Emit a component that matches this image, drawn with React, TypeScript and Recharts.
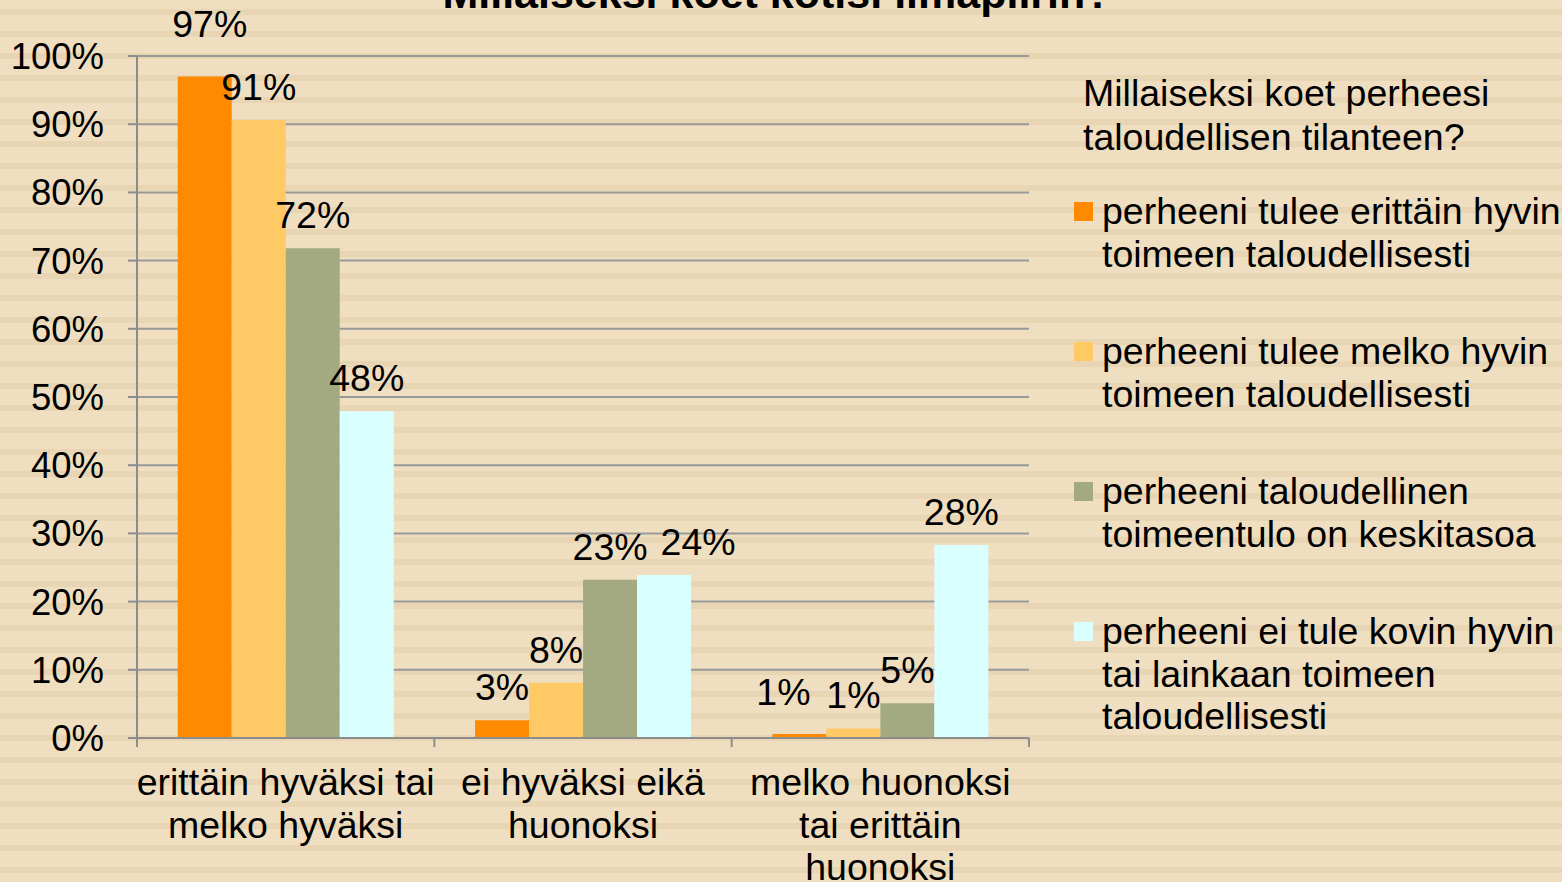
import { Bar, BarChart, CartesianGrid, LabelList, Legend, XAxis, YAxis } from "recharts";

const categories = [
  "erittäin hyväksi tai\nmelko hyväksi",
  "ei hyväksi eikä\nhuonoksi",
  "melko huonoksi\ntai erittäin\nhuonoksi",
];

const veryWell = [97, 2.6, 0.6];
const fairlyWell = [90.6, 8.1, 1.4];
const average = [71.8, 23.2, 5.1];
const notWell = [47.9, 23.9, 28.3];

const yTicks = [0, 10, 20, 30, 40, 50, 60, 70, 80, 90, 100];

const SERIES = [
  { key: "veryWell", name: "perheeni tulee erittäin hyvin\ntoimeen taloudellisesti", color: "#FF8A00" },
  { key: "fairlyWell", name: "perheeni tulee melko hyvin\ntoimeen taloudellisesti", color: "#FFCA66" },
  { key: "average", name: "perheeni taloudellinen\ntoimeentulo on keskitasoa", color: "#A3A980" },
  { key: "notWell", name: "perheeni ei tule kovin hyvin\ntai lainkaan toimeen\ntaloudellisesti", color: "#DAFFFF" },
];

const data = categories.map((category, i) => ({
  category,
  veryWell: veryWell[i],
  fairlyWell: fairlyWell[i],
  average: average[i],
  notWell: notWell[i],
}));

// hand nudges where Excel moved labels to avoid overlaps
const LABEL_NUDGE: Record<string, [number, number]> = {
  "veryWell-0": [5, -19],
  "notWell-1": [34, 0],
  "veryWell-2": [-16, -9],
};

const FONT = "'Liberation Sans', Arial, sans-serif";
const AXIS = "#8c8c8c";
const TEXT_SIZE = 37.5;

function CategoryTick(props: any) {
  const { x, y, payload, index } = props;
  const half = payload.offset ?? 149;
  const lines = String(payload.value).split("\n");
  return (
    <g>
      <line x1={x - half} x2={x - half} y1={y} y2={y + 9} stroke={AXIS} strokeWidth={2} />
      {index === categories.length - 1 && (
        <line x1={x + half} x2={x + half} y1={y} y2={y + 9} stroke={AXIS} strokeWidth={2} />
      )}
      <text x={x} y={y + 57} textAnchor="middle" fontSize={TEXT_SIZE} fill="#000" fontFamily={FONT}>
        {lines.map((line, i) => (
          <tspan key={i} x={x} dy={i === 0 ? 0 : 42.5}>
            {line}
          </tspan>
        ))}
      </text>
    </g>
  );
}

function valueLabel(seriesKey: string) {
  return (props: any) => {
    const { x, y, width, value, index } = props;
    const [dx, dy] = LABEL_NUDGE[`${seriesKey}-${index}`] ?? [0, 0];
    return (
      <text
        x={x + width / 2 + dx}
        y={y - 20 + dy}
        textAnchor="middle"
        fontSize={TEXT_SIZE}
        fill="#000"
        fontFamily={FONT}
      >
        {`${Math.round(value)}%`}
      </text>
    );
  };
}

function LegendBox() {
  // zero-height box so the legend doesn't steal room from the plot
  return (
    <div style={{ position: "relative", width: 0, height: 0, overflow: "visible", fontFamily: FONT, fontSize: TEXT_SIZE, color: "#000" }}>
      <div style={{ position: "absolute", left: 21, top: 71, lineHeight: "44px", whiteSpace: "pre" }}>
        {"Millaiseksi koet perheesi\ntaloudellisen tilanteen?"}
      </div>
      {SERIES.map((s, i) => (
        <div key={s.key} style={{ position: "absolute", left: 12, top: 190 + i * 140 }}>
          <div
            style={{
              position: "absolute",
              left: 0,
              top: 12,
              width: 19,
              height: 19,
              background: s.color,
            }}
          />
          <div style={{ position: "absolute", left: 28, top: 0, lineHeight: "42.5px", whiteSpace: "pre" }}>
            {s.name}
          </div>
        </div>
      ))}
    </div>
  );
}

export default function App() {
  return (
    <div
      style={{
        position: "relative",
        width: 1562,
        height: 882,
        overflow: "hidden",
        background:
          "repeating-linear-gradient(to bottom, #EFDEC0 0px, #EFDEC0 9px, #E8D5B3 9px, #E8D5B3 15px, #EFDEC0 15px, #EFDEC0 22px)",
      }}
    >
      <style>{`body{margin:0}`}</style>
      <div
        style={{
          position: "absolute",
          left: 0,
          top: -28,
          width: 1554,
          textAlign: "center",
          fontFamily: FONT,
          fontWeight: "bold",
          fontSize: 43,
          lineHeight: "43px",
          color: "#000",
        }}
      >
        Millaiseksi koet kotisi ilmapiirin?
      </div>
      <BarChart
        width={1562}
        height={882}
        data={data}
        margin={{ top: 56, right: 533, bottom: 0, left: 0 }}
        barCategoryGap="13.7%"
        barGap={0}
        style={{ position: "absolute", left: 0, top: 0 }}
      >
        <CartesianGrid vertical={false} stroke="#999999" strokeWidth={2} />
        <XAxis
          dataKey="category"
          height={144}
          interval={0}
          tick={<CategoryTick />}
          tickLine={false}
          tickSize={0}
          tickMargin={0}
          axisLine={{ stroke: AXIS, strokeWidth: 2 }}
        />
        <YAxis
          width={137}
          domain={[0, 100]}
          ticks={yTicks}
          interval={0}
          tickFormatter={(v) => `${v}%`}
          tick={{ fill: "#000", fontSize: 36.5, fontFamily: FONT }}
          tickSize={9}
          tickMargin={24}
          tickLine={{ stroke: AXIS, strokeWidth: 2 }}
          axisLine={{ stroke: AXIS, strokeWidth: 2 }}
        />
        <Legend
          content={<LegendBox />}
          wrapperStyle={{ position: "absolute", left: 1062, top: 0, width: 0, height: 0 }}
        />
        {SERIES.map((s) => (
          <Bar key={s.key} dataKey={s.key} name={s.name} fill={s.color} isAnimationActive={false}>
            <LabelList dataKey={s.key} content={valueLabel(s.key)} />
          </Bar>
        ))}
      </BarChart>
    </div>
  );
}
